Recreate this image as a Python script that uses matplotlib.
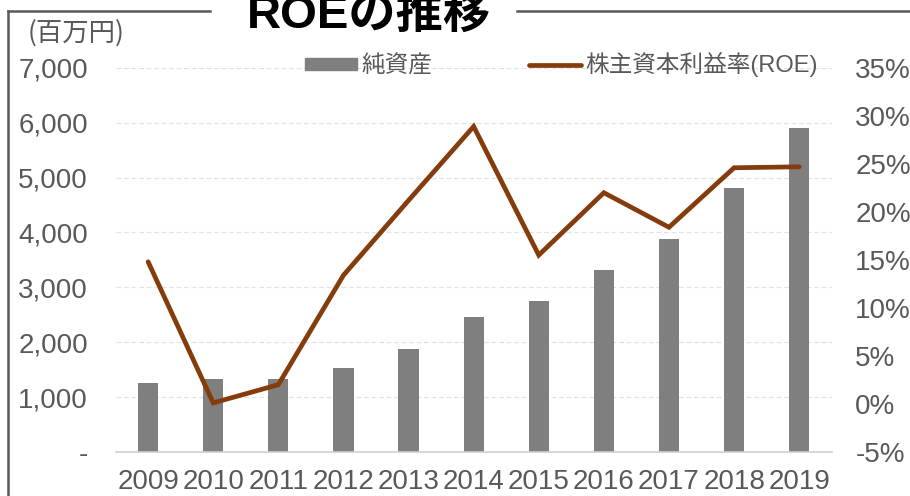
import matplotlib
matplotlib.use("Agg")
import matplotlib.pyplot as plt
from matplotlib.lines import Line2D
from matplotlib.patches import Patch
from matplotlib.ticker import FuncFormatter
import numpy as np

years = ["2009", "2010", "2011", "2012", "2013", "2014", "2015", "2016", "2017", "2018", "2019"]
net_assets = [1257, 1330, 1330, 1530, 1876, 2459, 2750, 3315, 3880, 4809, 5902]
roe = [14.8, 0.1, 2.0, 13.4, 21.2, 28.9, 15.5, 22.0, 18.4, 24.6, 24.7]

plt.rcParams['font.family'] = ['Liberation Sans', 'Noto Sans CJK JP']
TEXT = '#595959'

fig = plt.figure(figsize=(9.1, 4.96), dpi=100)
ax = fig.add_axes([0.127, 0.089, 0.787, 0.774])
ax2 = ax.twinx()

x = np.arange(len(years))
ax.bar(x, net_assets, width=0.31, color='#7f7f7f', zorder=2)
ax2.plot(x, roe, color='#843c0c', lw=3.4, solid_capstyle='round', solid_joinstyle='miter', zorder=3)

ax.set_xlim(-0.5, len(years) - 0.5)
ax.set_ylim(0, 7000)
ax.set_yticks(range(0, 7001, 1000))
ax.yaxis.set_major_formatter(FuncFormatter(lambda v, p: '-' if v == 0 else f'{int(v):,}'))
ax2.set_ylim(-5, 35)
ax2.set_yticks(range(-5, 36, 5))
ax2.yaxis.set_major_formatter(FuncFormatter(lambda v, p: f'{int(v)}%'))

ax.set_xticks(x)
ax.set_xticklabels(years)
ax.grid(axis='y', color='#e3e3e3', lw=0.9, ls=(0, (4, 2)), zorder=0)
ax.set_axisbelow(True)

for a in (ax, ax2):
    for s in a.spines.values():
        s.set_visible(False)
    a.tick_params(length=0, labelsize=20, colors=TEXT)
ax.spines['bottom'].set_visible(True)
ax.spines['bottom'].set_color('#d0d0d0')
ax.spines['bottom'].set_linewidth(1.2)
ax.tick_params(axis='y', pad=20)
ax.tick_params(axis='x', pad=12)
ax2.tick_params(axis='y', pad=17)

fig.text(0.03, 0.933, '(百万円)', fontsize=19, color=TEXT, va='center',
         family=['Noto Sans CJK JP'])

handles = [Patch(color='#7f7f7f'), Line2D([0], [0], color='#843c0c', lw=3.4, solid_capstyle='round')]
labels = ['純資産', '株主資本利益率(ROE)']
leg = fig.legend(handles, labels, loc='center', bbox_to_anchor=(0.617, 0.869), ncol=2,
                 frameon=False, handlelength=2.2, handleheight=0.35,
                 columnspacing=4.1, handletextpad=0.2, labelcolor=TEXT,
                 prop={'family': ['Liberation Sans', 'Noto Sans CJK JP'], 'size': 17})

fig.text(0.405, 1 - 28 / 496, 'ROEの推移', fontsize=34, fontweight='bold', ha='center',
         va='baseline', color='black', family=['Liberation Sans', 'Noto Sans CJK JP'])

# outer frame lines
fig.add_artist(Line2D([8 / 910, 8 / 910], [0, 1 - 11 / 496], color='#595959', lw=1.8))
fig.add_artist(Line2D([8 / 910, 210 / 910], [1 - 11 / 496, 1 - 11 / 496], color='#595959', lw=1.8))
fig.add_artist(Line2D([517 / 910, 1], [1 - 11 / 496, 1 - 11 / 496], color='#595959', lw=1.8))

fig.savefig('out.png', dpi=100)
